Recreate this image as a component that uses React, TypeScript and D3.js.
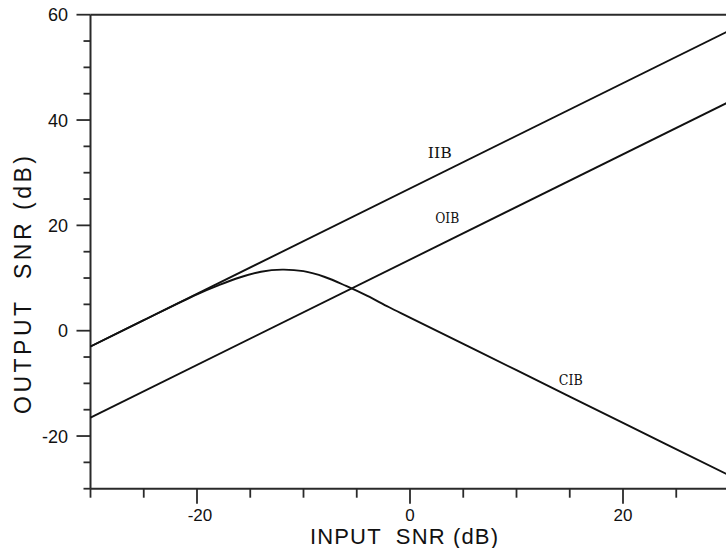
import React from 'react';
import * as d3 from 'd3';

// input SNR (dB) sample points
const iibX = [-30, 30];
const iibY = [-3, 57];
const oibX = [-30, 30];
const oibY = [-16.5, 43.5];
const cibX = [-30, -25, -20, -18, -16, -14, -12, -10, -8, -6, -4, -2, 0, 10, 20, 30];
const cibY = [-3, 2, 6.9, 8.6, 10.1, 11.2, 11.6, 11.3, 10.2, 8.5, 6.6, 4.5, 2.5, -7.5, -17.5, -27.5];

const yMajor = [60, 40, 20, 0, -20];
const xMajor = [-20, 0, 20];

const curveLabels = [
  { name: 'IIB', x: 2.8, y: 32.8 },
  { name: 'OIB', x: 3.5, y: 20.4 },
  { name: 'CIB', x: 15.1, y: -10.4 },
];

export default function App() {
  const width = 726;
  const height = 548;

  const x = d3.scaleLinear().domain([-30, 30]).range([90.5, 729.5]);
  const y = d3.scaleLinear().domain([-30, 60]).range([488.7, 14.7]);

  const line = d3.line<[number, number]>()
    .x(d => x(d[0]))
    .y(d => y(d[1]));
  const smooth = d3.line<[number, number]>()
    .x(d => x(d[0]))
    .y(d => y(d[1]))
    .curve(d3.curveCatmullRom.alpha(0.5));

  const zip = (a: number[], b: number[]) => a.map((v, i) => [v, b[i]] as [number, number]);

  const yMinor = d3.range(-30, 61, 5);
  const xMinor = d3.range(-30, 31, 5);

  const axisColor = '#2a2a2a';
  const tickFont = '"Liberation Sans", Arial, sans-serif';

  return (
    <svg width={width} height={height}
      style={{ position: 'absolute', left: 0, top: 0, background: '#fff' }}>
      {/* frame: left axis, bottom axis, top border */}
      <line x1={x(-30)} x2={x(-30)} y1={y(-30)} y2={y(60)} stroke={axisColor} strokeWidth={2} />
      <line x1={x(-30)} x2={width} y1={y(-30)} y2={y(-30)} stroke={axisColor} strokeWidth={2} />
      <line x1={x(-30)} x2={width} y1={y(60)} y2={y(60)} stroke={axisColor} strokeWidth={2} />

      {/* y ticks */}
      {yMinor.map(v => {
        const major = yMajor.includes(v);
        return (
          <line key={'yt' + v} x1={x(-30) - (major ? 14 : 7)} x2={x(-30)} y1={y(v)} y2={y(v)}
            stroke={axisColor} strokeWidth={1.8} />
        );
      })}
      {yMajor.map(v => (
        <text key={'yl' + v} x={68} y={y(v)} dy="0.36em" textAnchor="end"
          fontFamily={tickFont} fontSize={18} fill="#111">{v < 0 ? '-' + Math.abs(v) : v}</text>
      ))}

      {/* x ticks */}
      {xMinor.map(v => {
        const major = xMajor.includes(v);
        return (
          <line key={'xt' + v} x1={x(v)} x2={x(v)} y1={y(-30)} y2={y(-30) + (major ? 15 : 9)}
            stroke={axisColor} strokeWidth={1.8} />
        );
      })}
      {xMajor.map(v => (
        <text key={'xl' + v} x={x(v) + (v < 0 ? 3 : 0)} y={521} textAnchor="middle"
          fontFamily={tickFont} fontSize={17} fill="#111">{v < 0 ? '-' + Math.abs(v) : v}</text>
      ))}

      {/* axis titles */}
      <text x={310} y={544} fontFamily={tickFont} fontSize={22} fill="#111"
        textLength={188} lengthAdjust="spacing" style={{ whiteSpace: 'pre' }}>INPUT  SNR (dB)</text>
      <text transform="translate(31,285) rotate(-90)" textAnchor="middle" fontFamily={tickFont}
        fontSize={23} fill="#111" textLength={258} lengthAdjust="spacing"
        style={{ whiteSpace: 'pre' }}>OUTPUT  SNR (dB)</text>

      {/* curves */}
      <path d={line(zip(iibX, iibY)) || ''} fill="none" stroke="#111" strokeWidth={1.9} />
      <path d={line(zip(oibX, oibY)) || ''} fill="none" stroke="#111" strokeWidth={1.9} />
      <path d={smooth(zip(cibX, cibY)) || ''} fill="none" stroke="#111" strokeWidth={1.9} />

      {curveLabels.map(l => (
        <text key={l.name} x={x(l.x)} y={y(l.y)} textAnchor="middle"
          fontFamily='"DejaVu Serif Condensed", "DejaVu Serif", serif' fontSize={14}
          fill="#111" textLength={24} lengthAdjust="spacingAndGlyphs">{l.name}</text>
      ))}
    </svg>
  );
}
